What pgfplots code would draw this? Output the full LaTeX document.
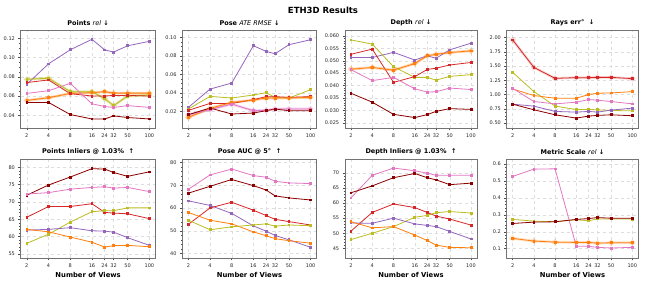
\documentclass[border=0pt]{standalone}
\usepackage{fontspec}
\setmainfont{DejaVu Sans}
\usepackage{pgfplots}
\pgfplotsset{compat=1.18}
\definecolor{cpurple}{HTML}{9467BD}
\definecolor{colive}{HTML}{BCBD22}
\definecolor{corange}{HTML}{FF7F0E}
\definecolor{cred}{HTML}{D62728}
\definecolor{cpink}{HTML}{E377C2}
\definecolor{cdark}{HTML}{8B0000}
\definecolor{gridc}{HTML}{DDDDDD}
\pgfkeys{/pgf/number format/assume math mode=true, /pgf/number format/fixed, /pgf/number format/fixed zerofill}
\pgfplotsset{
  scale only axis, width=134pt, height=98pt,
  xmin=1.645, xmax=121.6,
  xtick={2,4,8,16,24,32,50,100}, xticklabels={2,4,8,16,24,32,50,100},
  minor xtick={3,5,6,7,9,20,30,40,60,70,80,90},
  scaled y ticks=false,
  tick align=outside, tick pos=left,
  major tick length=2.3pt, minor tick length=1.3pt,
  every tick/.style={black!70, line width=0.5pt},
  axis line style={black!55, line width=0.8pt},
  xmajorgrids, ymajorgrids, major grid style={dashed, gridc, line width=0.4pt},
  tick label style={font=\fontsize{5}{6}\selectfont, color=black!85},
  title style={font=\fontsize{6.5}{7.5}\selectfont\bfseries, yshift=-5.5pt},
  xlabel style={font=\fontsize{6.8}{8}\selectfont\bfseries, yshift=2pt},
  every axis plot/.append style={line width=0.8pt, mark=square*, mark size=0.9pt, mark options={solid}},
}
\tikzset{ethunder/.style={line width=2.6pt, opacity=0.35, mark=*, mark size=1.4pt}}
\begin{document}
\begin{tikzpicture}
\useasboundingbox (0,0) rectangle (646pt,281pt);
\node[font=\fontsize{8.5}{10}\selectfont\bfseries] at (323pt,271pt) {ETH3D Results};

% 1 Points rel
\begin{axis}[xmode=log, scaled y ticks=false, at={(20.7pt,153pt)}, anchor=south west, width=134.8pt,
  ymin=0.0267, ymax=0.1287, ytick={0.04,0.06,0.08,0.10,0.12}, minor y tick num=3,
  yticklabel style={/pgf/number format/precision=2},
  title={Points {\mdseries\itshape rel} ↓}]
\addplot[corange, ethunder] coordinates {(2,0.0554)(4,0.0582)(8,0.0627)(16,0.0634)(24,0.0645)(32,0.063)(50,0.063)(100,0.063)};
\addplot[colive, ethunder] coordinates {(2,0.0774)(4,0.0785)(8,0.0645)(16,0.0645)(24,0.0572)(32,0.050)(50,0.060)(100,0.061)};
\addplot[cpurple] coordinates {(2,0.0722)(4,0.0935)(8,0.1081)(16,0.119)(24,0.108)(32,0.1057)(50,0.1123)(100,0.1169)};
\addplot[colive] coordinates {(2,0.0774)(4,0.0785)(8,0.0645)(16,0.0645)(24,0.0572)(32,0.050)(50,0.060)(100,0.061)};
\addplot[corange] coordinates {(2,0.0554)(4,0.0582)(8,0.0627)(16,0.0634)(24,0.0645)(32,0.063)(50,0.063)(100,0.063)};
\addplot[cred] coordinates {(2,0.074)(4,0.0767)(8,0.0624)(16,0.060)(24,0.060)(32,0.0606)(50,0.0606)(100,0.060)};
\addplot[cpink] coordinates {(2,0.0627)(4,0.0655)(8,0.0732)(16,0.0519)(24,0.0491)(32,0.0481)(50,0.050)(100,0.0481)};
\addplot[cdark] coordinates {(2,0.0533)(4,0.0533)(8,0.0407)(16,0.0361)(24,0.0361)(32,0.0393)(50,0.0376)(100,0.0361)};
\end{axis}

% 2 Pose ATE RMSE
\begin{axis}[xmode=log, scaled y ticks=false, at={(182.3pt,153pt)}, anchor=south west, width=134.4pt,
  ymin=0.002, ymax=0.108, ytick={0.02,0.04,0.06,0.08,0.10}, minor y tick num=3,
  yticklabel style={/pgf/number format/precision=2},
  title={Pose {\mdseries\itshape ATE RMSE} ↓}]
\addplot[corange, ethunder] coordinates {(2,0.0135)(4,0.0232)(8,0.0297)(16,0.0322)(24,0.0344)(32,0.0344)(50,0.0344)(100,0.0351)};
\addplot[cpink, ethunder] coordinates {(2,0.0164)(4,0.0218)(8,0.0279)(16,0.0207)(24,0.0211)(32,0.0225)(50,0.0225)(100,0.0225)};
\addplot[cpurple] coordinates {(2,0.0243)(4,0.0441)(8,0.0506)(16,0.091)(24,0.0849)(32,0.0823)(50,0.0921)(100,0.0975)};
\addplot[colive] coordinates {(2,0.0225)(4,0.0362)(8,0.0344)(16,0.0377)(24,0.0402)(32,0.0351)(50,0.0344)(100,0.0434)};
\addplot[cred] coordinates {(2,0.0211)(4,0.0286)(8,0.0286)(16,0.0326)(24,0.0359)(32,0.0359)(50,0.0351)(100,0.0359)};
\addplot[corange] coordinates {(2,0.0135)(4,0.0232)(8,0.0297)(16,0.0322)(24,0.0344)(32,0.0344)(50,0.0344)(100,0.0351)};
\addplot[cpink] coordinates {(2,0.0164)(4,0.0218)(8,0.0279)(16,0.0207)(24,0.0211)(32,0.0225)(50,0.0225)(100,0.0225)};
\addplot[cdark] coordinates {(2,0.0164)(4,0.0236)(8,0.0171)(16,0.0182)(24,0.0207)(32,0.0225)(50,0.0207)(100,0.0207)};
\end{axis}

% 3 Depth rel
\begin{axis}[xmode=log, scaled y ticks=false, at={(345pt,153pt)}, anchor=south west, width=132pt,
  ymin=0.0229, ymax=0.0624, ytick={0.025,0.030,0.035,0.040,0.045,0.050,0.055,0.060}, minor y tick num=4,
  yticklabel style={/pgf/number format/precision=3},
  title={Depth {\mdseries\itshape rel} ↓}]
\addplot[corange, ethunder] coordinates {(2,0.0466)(4,0.0473)(8,0.0462)(16,0.0489)(24,0.052)(32,0.0526)(50,0.0533)(100,0.054)};
\addplot[cpurple] coordinates {(2,0.0513)(4,0.0513)(8,0.0534)(16,0.0503)(24,0.052)(32,0.051)(50,0.0544)(100,0.0571)};
\addplot[colive] coordinates {(2,0.0584)(4,0.0567)(8,0.0476)(16,0.0433)(24,0.0433)(32,0.0422)(50,0.0437)(100,0.0444)};
\addplot[cred] coordinates {(2,0.0526)(4,0.0547)(8,0.0413)(16,0.0436)(24,0.0465)(32,0.047)(50,0.0483)(100,0.0493)};
\addplot[corange] coordinates {(2,0.0466)(4,0.0473)(8,0.0462)(16,0.0489)(24,0.052)(32,0.0526)(50,0.0533)(100,0.054)};
\addplot[cpink] coordinates {(2,0.0464)(4,0.0420)(8,0.0433)(16,0.0387)(24,0.0374)(32,0.0375)(50,0.039)(100,0.0384)};
\addplot[cdark] coordinates {(2,0.0369)(4,0.0333)(8,0.0284)(16,0.0271)(24,0.0283)(32,0.0296)(50,0.0307)(100,0.0304)};
\end{axis}

% 4 Rays err
\begin{axis}[xmode=log, scaled y ticks=false, at={(506.7pt,153pt)}, anchor=south west, width=131.6pt,
  ymin=0.413, ymax=2.134, ytick={0.5,0.75,1.0,1.25,1.5,1.75,2.0}, minor y tick num=3,
  yticklabel style={/pgf/number format/precision=2},
  title={Rays err°\ \ ↓}]
\addplot[cred, ethunder, opacity=0.2] coordinates {(2,1.96)(4,1.477)(8,1.285)(16,1.297)(24,1.297)(32,1.302)(50,1.302)(100,1.28)};
\addplot[cred] coordinates {(2,1.96)(4,1.477)(8,1.285)(16,1.297)(24,1.297)(32,1.302)(50,1.302)(100,1.28)};
\addplot[colive] coordinates {(2,1.39)(4,1.052)(8,0.797)(16,0.738)(24,0.738)(32,0.733)(50,0.72)(100,0.715)};
\addplot[corange] coordinates {(2,1.099)(4,0.983)(8,0.936)(16,0.936)(24,1.0)(32,1.023)(50,1.029)(100,1.052)};
\addplot[cpink] coordinates {(2,1.11)(4,0.878)(8,0.837)(16,0.866)(24,0.913)(32,0.901)(50,0.878)(100,0.837)};
\addplot[cpurple] coordinates {(2,0.831)(4,0.797)(8,0.704)(16,0.692)(24,0.704)(32,0.692)(50,0.727)(100,0.762)};
\addplot[cdark] coordinates {(2,0.831)(4,0.733)(8,0.645)(16,0.587)(24,0.622)(32,0.634)(50,0.645)(100,0.628)};
\end{axis}

% 5 Points Inliers
\begin{axis}[xmode=log, scaled y ticks=false, at={(20.7pt,23pt)}, anchor=south west, width=134.8pt, height=99pt,
  ymin=53.85, ymax=82.4, ytick={55,60,65,70,75,80}, minor y tick num=4,
  yticklabel style={/pgf/number format/precision=0},
  title={Points Inliers @ 1.03\%\ \ ↑}, xlabel={Number of Views}]
\addplot[cdark] coordinates {(2,71.95)(4,74.9)(8,77.2)(16,79.6)(24,79.5)(32,78.5)(50,77.4)(100,78.7)};
\addplot[cpink] coordinates {(2,72.3)(4,72.7)(8,73.7)(16,74.2)(24,74.4)(32,74.0)(50,74.2)(100,73.0)};
\addplot[cred] coordinates {(2,65.6)(4,68.7)(8,68.7)(16,69.5)(24,67.0)(32,66.8)(50,66.6)(100,65.2)};
\addplot[colive] coordinates {(2,58.1)(4,60.7)(8,64.2)(16,67.2)(24,67.5)(32,67.5)(50,68.3)(100,68.3)};
\addplot[cpurple] coordinates {(2,61.9)(4,62.1)(8,62.6)(16,61.7)(24,61.6)(32,61.3)(50,59.7)(100,57.5)};
\addplot[corange] coordinates {(2,62.1)(4,61.4)(8,59.9)(16,58.4)(24,57.0)(32,57.4)(50,57.5)(100,57.1)};
\end{axis}

% 6 Pose AUC
\begin{axis}[xmode=log, scaled y ticks=false, at={(182.3pt,23pt)}, anchor=south west, width=134.4pt, height=99pt,
  ymin=38.1, ymax=81.6, ytick={40,50,60,70,80}, minor y tick num=4,
  yticklabel style={/pgf/number format/precision=0},
  title={Pose AUC @ 5°\ \ ↑}, xlabel={Number of Views}]
\addplot[cpink] coordinates {(2,68.3)(4,74.6)(8,77.2)(16,74.3)(24,73.6)(32,71.8)(50,71.1)(100,70.8)};
\addplot[cdark] coordinates {(2,66.6)(4,69.6)(8,72.6)(16,69.9)(24,68.0)(32,65.4)(50,64.5)(100,63.6)};
\addplot[cpurple] coordinates {(2,63.2)(4,61.2)(8,57.7)(16,52.2)(24,49.9)(32,48.0)(50,46.1)(100,42.8)};
\addplot[cred] coordinates {(2,52.9)(4,60.1)(8,62.6)(16,59.1)(24,56.8)(32,55.1)(50,54.1)(100,52.6)};
\addplot[corange] coordinates {(2,58.1)(4,54.7)(8,53.1)(16,49.6)(24,47.9)(32,46.6)(50,45.7)(100,44.6)};
\addplot[colive] coordinates {(2,54.7)(4,50.5)(8,51.8)(16,52.6)(24,53.1)(32,52.1)(50,52.6)(100,52.3)};
\end{axis}

% 7 Depth Inliers
\begin{axis}[xmode=log, scaled y ticks=false, at={(345pt,23pt)}, anchor=south west, width=132pt, height=99pt,
  ymin=41.8, ymax=74.6, ytick={45,50,55,60,65,70}, minor y tick num=4,
  yticklabel style={/pgf/number format/precision=0},
  title={Depth Inliers @ 1.03\%\ \ ↑}, xlabel={Number of Views}]
\addplot[cpink] coordinates {(2,61.7)(4,69.2)(8,71.6)(16,70.7)(24,69.9)(32,69.2)(50,69.2)(100,69.2)};
\addplot[cdark] coordinates {(2,63.4)(4,65.7)(8,68.4)(16,69.8)(24,68.4)(32,67.7)(50,66.1)(100,66.6)};
\addplot[cred] coordinates {(2,50.7)(4,56.9)(8,59.7)(16,58.5)(24,56.9)(32,55.7)(50,54.7)(100,52.7)};
\addplot[colive] coordinates {(2,47.9)(4,50.0)(8,52.2)(16,55.3)(24,55.9)(32,56.8)(50,57.2)(100,56.7)};
\addplot[cpurple] coordinates {(2,53.4)(4,53.3)(8,55.0)(16,53.1)(24,52.6)(32,52.2)(50,50.6)(100,48.1)};
\addplot[corange] coordinates {(2,53.8)(4,51.8)(8,52.2)(16,49.4)(24,47.6)(32,46.1)(50,45.3)(100,45.2)};
\end{axis}

% 8 Metric Scale
\begin{axis}[xmode=log, scaled y ticks=false, at={(506.7pt,23pt)}, anchor=south west, width=131.6pt, height=99pt,
  ymin=0.045, ymax=0.63, ytick={0.1,0.2,0.3,0.4,0.5,0.6}, minor y tick num=4,
  yticklabel style={/pgf/number format/precision=1},
  title={Metric Scale {\mdseries\itshape rel} ↓}, xlabel={Number of Views}]
\addplot[corange, ethunder, opacity=0.25] coordinates {(2,0.161)(4,0.145)(8,0.139)(16,0.137)(24,0.137)(32,0.133)(50,0.135)(100,0.135)};
\addplot[cpink] coordinates {(2,0.527)(4,0.570)(8,0.572)(16,0.114)(24,0.114)(32,0.108)(50,0.104)(100,0.108)};
\addplot[colive] coordinates {(2,0.273)(4,0.263)(8,0.259)(16,0.271)(24,0.265)(32,0.276)(50,0.276)(100,0.275)};
\addplot[cdark] coordinates {(2,0.249)(4,0.257)(8,0.259)(16,0.273)(24,0.278)(32,0.284)(50,0.280)(100,0.280)};
\addplot[corange] coordinates {(2,0.161)(4,0.145)(8,0.139)(16,0.137)(24,0.137)(32,0.133)(50,0.135)(100,0.135)};
\end{axis}
\end{tikzpicture}
\end{document}
